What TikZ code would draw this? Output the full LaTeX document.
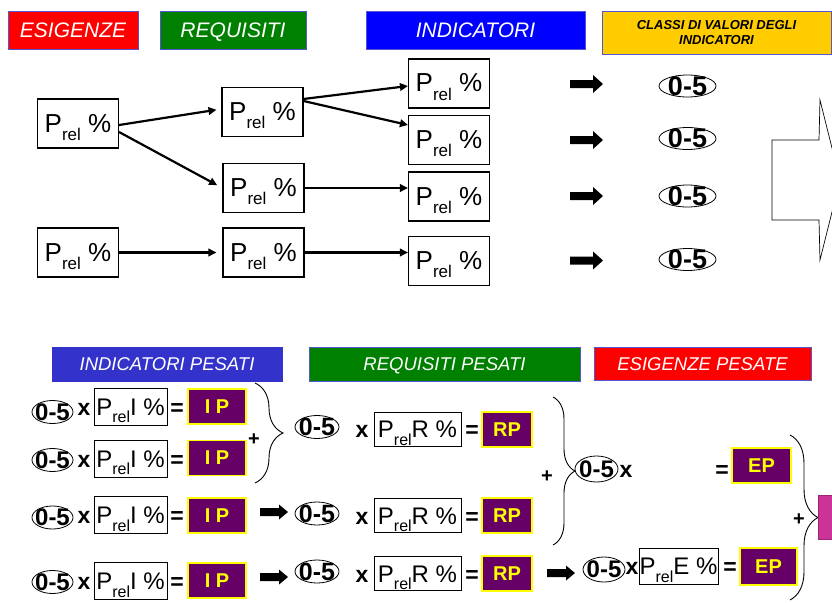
\documentclass[tikz,border=0pt]{standalone}
\usepackage{fontspec}
\setmainfont{Liberation Sans}
\usetikzlibrary{arrows.meta,decorations.pathreplacing,calc}
\definecolor{cred}{RGB}{255,0,0}
\definecolor{cgreen}{RGB}{0,128,0}
\definecolor{cblue}{RGB}{0,0,255}
\definecolor{cgold}{RGB}{255,204,0}
\definecolor{cindigo}{RGB}{51,51,204}
\definecolor{cpurple}{RGB}{102,0,102}
\definecolor{cyel}{RGB}{255,255,0}
\definecolor{cpink}{RGB}{204,51,153}
\definecolor{cedge}{RGB}{85,85,210}
\newcommand{\fsz}[1]{\fontsize{#1}{#1}\selectfont}
\newcommand{\Prl}[1]{P\raisebox{-0.32em}{\fsz{#1}rel}}
\newcommand{\ovl}[5]{\node[otxt=#5] (#1) at (#2) {0-5};
  \draw[ov] (#1.center) ellipse [x radius=#3pt, y radius=#4pt];}
\newcommand{\blkarrow}[6]{\fill ({#1},{#2-#6}) -- ({#1+#3-#4},{#2-#6}) -- ({#1+#3-#4},{#2-#5}) -- ({#1+#3},{#2}) -- ({#1+#3-#4},{#2+#5}) -- ({#1+#3-#4},{#2+#6}) -- ({#1},{#2+#6}) -- cycle;}
\begin{document}
\begin{tikzpicture}[x=1pt,y=-1pt,
  hdr/.style={draw=cedge, line width=0.8pt, inner sep=0pt, text=white, font=\fsz{21}\itshape, text height=15pt, text depth=0pt},
  hdrs/.style={hdr, font=\fsz{18.5}\itshape, text height=13.2pt, text depth=0pt},
  pbox/.style={draw, line width=1.1pt, inner sep=0pt, minimum width=81pt, minimum height=49pt, font=\fsz{26}, text height=19pt, text depth=2pt},
  sbox/.style={draw, line width=0.8pt, inner sep=0pt, font=\fsz{24}, text height=17.5pt, text depth=0.5pt},
  wbox/.style={draw=cyel, line width=1.2pt, fill=cpurple, text=cyel, inner sep=0pt, font=\fsz{20}\bfseries},
  otxt/.style={inner sep=0pt, font=\fsz{#1}\bfseries},
  ov/.style={line width=0.8pt},
  op/.style={inner sep=0pt, font=\fsz{23}\bfseries, anchor=base},
  pl/.style={inner sep=0pt, font=\fsz{20}\bfseries},
  conn/.style={line width=2.2pt, -{Triangle[length=8pt,width=7.5pt]}},
  brc/.style={decorate, decoration={brace, amplitude=#1}, line width=0.9pt}
]
\clip (0,0) rectangle (832,602);
\useasboundingbox (0,0) rectangle (832,602);
\fill[white] (0,0) rectangle (832,602);

% ---------- top headers
\node[hdr, fill=cred, minimum width=130pt, minimum height=38pt] (hE) at (73,30) {ESIGENZE};
\node[hdr, fill=cgreen, minimum width=146pt, minimum height=38pt] (hR) at (233,30) {REQUISITI};
\node[hdr, fill=cblue, minimum width=219pt, minimum height=38pt] (hI) at (475.5,30) {INDICATORI};
\node[draw=cedge, line width=0.8pt, inner sep=0pt, fill=cgold, text=black, minimum width=229pt, minimum height=43pt, align=center,
      font=\fontsize{13}{14.5}\selectfont\bfseries\itshape] (hC) at (716.5,32.5) {CLASSI DI VALORI DEGLI\\INDICATORI};

% ---------- top boxes
\node[pbox] (E1) at (78,123.5) {\Prl{17}~\%};
\node[pbox] (E2) at (78,252.5) {\Prl{17}~\%};
\node[pbox] (R1) at (262.5,112) {\Prl{17}~\%};
\node[pbox] (R2) at (263.5,188) {\Prl{17}~\%};
\node[pbox] (R3) at (263.5,252.5) {\Prl{17}~\%};
\node[pbox] (I1) at (449,83.5) {\Prl{17}~\%};
\node[pbox] (I2) at (449,140) {\Prl{17}~\%};
\node[pbox] (I3) at (449,196.5) {\Prl{17}~\%};
\node[pbox] (I4) at (449,261) {\Prl{17}~\%};

\draw[conn, shorten >=5pt] ([yshift=-1.5pt]E1.east) -- ([yshift=3pt]R1.west);
\draw[conn, shorten >=6pt] ([yshift=-8.5pt]E1.east) -- (R2.west);
\draw[conn] ([yshift=13pt]R1.east) -- ([yshift=-2.5pt]I1.west);
\draw[conn] ([yshift=11pt]R1.east) -- ([yshift=15pt]I2.west);
\draw[conn] (R2.east) -- (R2.east -| I3.west);
\draw[conn, shorten >=6pt] (E2.east) -- (R3.west);
\draw[conn] (R3.east) -- (R3.east -| I4.west);

% thick arrows and classes
\blkarrow{570}{84}{33}{10}{9}{4}
\blkarrow{570}{140}{33}{10}{9}{4}
\blkarrow{570}{196}{33}{10}{9}{4}
\blkarrow{570}{260.5}{33}{10}{9}{4}
\ovl{C1}{687.5,86}{28.5}{11}{27}
\ovl{C2}{687.5,138.5}{28.5}{11}{27}
\ovl{C3}{687.5,196}{28.5}{11}{27}
\ovl{C4}{687.5,259.5}{28.5}{11}{27}

% big outline arrow
\draw[line width=0.7pt, fill=white] (772,140) -- (819,140) -- (820,100) -- (840,180) -- (820,260) -- (819,220) -- (772,220) -- cycle;

% ---------- bottom headers
\node[hdrs, fill=cindigo, draw=cindigo, minimum width=230pt, minimum height=34pt] (hIP) at (167,364) {INDICATORI PESATI};
\node[hdrs, fill=cgreen, minimum width=271pt, minimum height=34pt] (hRP) at (444.5,364) {REQUISITI PESATI};
\node[hdrs, fill=cred, minimum width=217pt, minimum height=33pt] (hEP) at (702.5,363.5) {ESIGENZE PESATE};

% ---------- indicatori pesati rows
\ovl{oI1}{52.5,412}{20.5}{11.5}{24}
\ovl{oI2}{52.5,460}{20.5}{11.5}{24}
\ovl{oI3}{52.5,517.5}{20.5}{11.5}{24}
\ovl{oI4}{52.5,582}{20.5}{11.5}{24}
\node[sbox, minimum width=73pt, minimum height=37pt] (PI1) at (130.5,406.5) {\Prl{16}I~\%};
\node[sbox, minimum width=73pt, minimum height=37pt] (PI2) at (130.5,458.5) {\Prl{16}I~\%};
\node[sbox, minimum width=73pt, minimum height=37pt] (PI3) at (130.5,515) {\Prl{16}I~\%};
\node[sbox, minimum width=73pt, minimum height=37pt] (PI4) at (130.5,581) {\Prl{16}I~\%};
\node[wbox, minimum width=58pt, minimum height=35pt] (IP1) at (217,406.5) {I P};
\node[wbox, minimum width=58pt, minimum height=35pt] (IP2) at (217,458) {I P};
\node[wbox, minimum width=58pt, minimum height=35pt] (IP3) at (217,515.5) {I P};
\node[wbox, minimum width=58pt, minimum height=35pt] (IP4) at (217,580.5) {I P};
\foreach \k in {1,2,3,4}{
  \node[op] (xI\k) at (84,0 |- PI\k.base) {x};
  \node[op] (eI\k) at (177,0 |- PI\k.base) {=};
}
\draw[brc=28pt] (255,383) -- (255,483);
\node[pl] (plus1) at (254,440) {+};
\blkarrow{260}{512}{28}{9}{7.5}{4}
\blkarrow{260}{577}{28}{9}{7.5}{4}

% ---------- requisiti pesati rows
\ovl{oR1}{317,427}{22}{11.5}{25}
\ovl{oR2}{317,513.5}{22}{11.5}{25}
\ovl{oR3}{317,571.5}{22}{11.5}{25}
\node[sbox, minimum width=87pt, minimum height=34pt] (PR1) at (417.5,429) {\Prl{16}R~\%};
\node[sbox, minimum width=87pt, minimum height=34pt] (PR2) at (417.5,515.5) {\Prl{16}R~\%};
\node[sbox, minimum width=87pt, minimum height=34pt] (PR3) at (417.5,573.5) {\Prl{16}R~\%};
\node[wbox, minimum width=50pt, minimum height=35pt] (RP1) at (507,429.5) {RP};
\node[wbox, minimum width=50pt, minimum height=35pt] (RP2) at (507,515.5) {RP};
\node[wbox, minimum width=50pt, minimum height=35pt] (RP3) at (507,573.5) {RP};
\foreach \k in {1,2,3}{
  \node[op] (xR\k) at (362,0 |- PR\k.base) {x};
  \node[op] (eR\k) at (472,0 |- PR\k.base) {=};
}
\draw[brc=22pt] (553,397) -- (553,545);
\node[pl] (plus2) at (547,477) {+};
\blkarrow{547}{573}{28}{9}{7.5}{4}

% ---------- esigenze pesate rows
\ovl{oE1}{596.5,469}{21.5}{13}{24}
\node[op] (xE1) at (626,477) {x};
\node[op] (eE1) at (722,477) {=};
\node[wbox, minimum width=59pt, minimum height=35pt] (EP1) at (761.5,465.5) {EP};
\ovl{oE2}{604,569.5}{21}{12.5}{24}
\node[sbox, minimum width=79pt, minimum height=36pt] (PE2) at (678.5,566) {\Prl{16}E~\%};
\node[op] (xE2) at (632,0 |- PE2.base) {x};
\node[op] (eE2) at (730,0 |- PE2.base) {=};
\node[wbox, minimum width=57pt, minimum height=37pt] (EP2) at (768.5,566.5) {EP};
\draw[brc=28pt] (790,435) -- (790,600);
\node[pl] (plus3) at (799,520) {+};
\node[fill=cpink, draw=cpink!75!black, line width=0.8pt, minimum width=34pt, minimum height=44pt, inner sep=0pt] (tot) at (835,517) {};
\end{tikzpicture}
\end{document}
